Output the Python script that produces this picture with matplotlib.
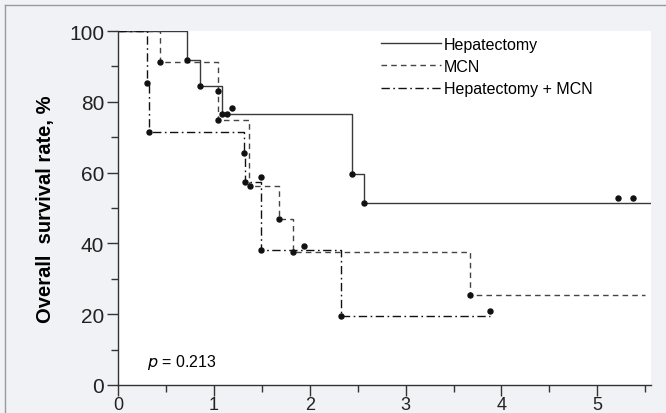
import matplotlib
matplotlib.use('Agg')
import matplotlib.pyplot as plt
from matplotlib.lines import Line2D
from matplotlib.ticker import MultipleLocator

plt.rcParams['font.family'] = ['Liberation Sans', 'DejaVu Sans']

# ---------------- data ----------------
hep_t = [0, 0.716, 0.855, 1.085, 2.443, 2.57, 5.56]
hep_s = [100, 91.9, 84.4, 76.6, 59.7, 51.5, 51.5]
hep_dot_t = [0.716, 0.855, 1.085, 1.133, 1.186, 2.443, 2.57, 5.22, 5.37]
hep_dot_s = [91.9, 84.4, 76.6, 76.6, 78.3, 59.7, 51.5, 52.8, 52.8]

mcn_t = [0, 0.434, 1.04, 1.37, 1.676, 1.83, 3.67, 5.5]
mcn_s = [100, 91.3, 74.9, 56.2, 47.0, 37.6, 25.5, 25.5]
mcn_dot_t = [0.434, 1.04, 1.04, 1.375, 1.494, 1.676, 1.83, 1.936, 3.67]
mcn_dot_s = [91.3, 83.1, 74.9, 56.2, 58.7, 47.0, 37.6, 39.2, 25.5]

both_t = [0, 0.30, 0.326, 1.313, 1.33, 1.487, 2.33, 3.88]
both_s = [100, 85.4, 71.4, 65.5, 57.3, 38.2, 19.4, 19.4]
both_dot_t = [0.30, 0.326, 1.313, 1.33, 1.487, 2.33, 3.88]
both_dot_s = [85.4, 71.4, 65.5, 57.3, 38.2, 19.4, 20.9]

labels = ['Hepatectomy', 'MCN', 'Hepatectomy + MCN']

# ---------------- figure ----------------
fig = plt.figure(figsize=(6.66, 4.14), dpi=100, facecolor='#f1f2f5')
ax = fig.add_axes([118/666, 28/414, 533/666, 354/414])
ax.set_facecolor('white')

ax.step(hep_t, hep_s, where='post', color='#3a3a3a', lw=1.0, label=labels[0])
ax.step(mcn_t, mcn_s, where='post', color='#444444', lw=1.0,
        dashes=(4, 3), label=labels[1])
ax.step(both_t, both_s, where='post', color='#111111', lw=1.0,
        dashes=(6, 2.5, 1.2, 2.5), label=labels[2])

for tt, ss in [(hep_dot_t, hep_dot_s), (mcn_dot_t, mcn_dot_s), (both_dot_t, both_dot_s)]:
    ax.plot(tt, ss, 'o', color='#111111', ms=3.6, ls='none')

ax.set_xlim(0, 5.56)
ax.set_ylim(0, 100)
ax.xaxis.set_major_locator(MultipleLocator(1))
ax.xaxis.set_minor_locator(MultipleLocator(0.5))
ax.yaxis.set_major_locator(MultipleLocator(20))
ax.yaxis.set_minor_locator(MultipleLocator(10))
ax.tick_params(which='major', length=8, width=1, color='#333333')
ax.tick_params(which='minor', length=5, width=1, color='#333333')
ax.tick_params(axis='x', which='major', pad=9)  # labels anchored on baseline below
ax.tick_params(axis='y', which='major', pad=2)
for lab in ax.get_yticklabels():
    lab.set_family(['Liberation Sans Narrow', 'Liberation Sans'])
    lab.set_fontsize(15)
    lab.set_color('#222222')
for tick in ax.xaxis.get_major_ticks():
    tick.label1.set_family(['Liberation Sans Narrow', 'Liberation Sans'])
    tick.label1.set_fontsize(13)
    tick.label1.set_color('#222222')
    tick.label1.set_verticalalignment('baseline')

for side in ['top', 'right']:
    ax.spines[side].set_visible(False)
for side in ['left', 'bottom']:
    ax.spines[side].set_color('#333333')
    ax.spines[side].set_linewidth(1.0)

ax.set_ylabel('Overall  survival rate, %', fontsize=14.5, fontweight='bold', labelpad=10)

ax.text(0.3, 6.5, r'$p$ = 0.213', fontsize=11.5, ha='left', va='center')

ax.legend(loc='upper left', bbox_to_anchor=(0.478, 1.006), frameon=False,
          fontsize=11.5, handlelength=3.8, handletextpad=0.15,
          labelspacing=0.45, borderpad=0)

# thin frame around the panel (top + left)
fig.add_artist(Line2D([5/666, 1], [1 - 6/414, 1 - 6/414], color='#9a9a9a', lw=1))
fig.add_artist(Line2D([5/666, 5/666], [0, 1 - 6/414], color='#9a9a9a', lw=1))

fig.savefig('out.png', dpi=100, facecolor=fig.get_facecolor())
